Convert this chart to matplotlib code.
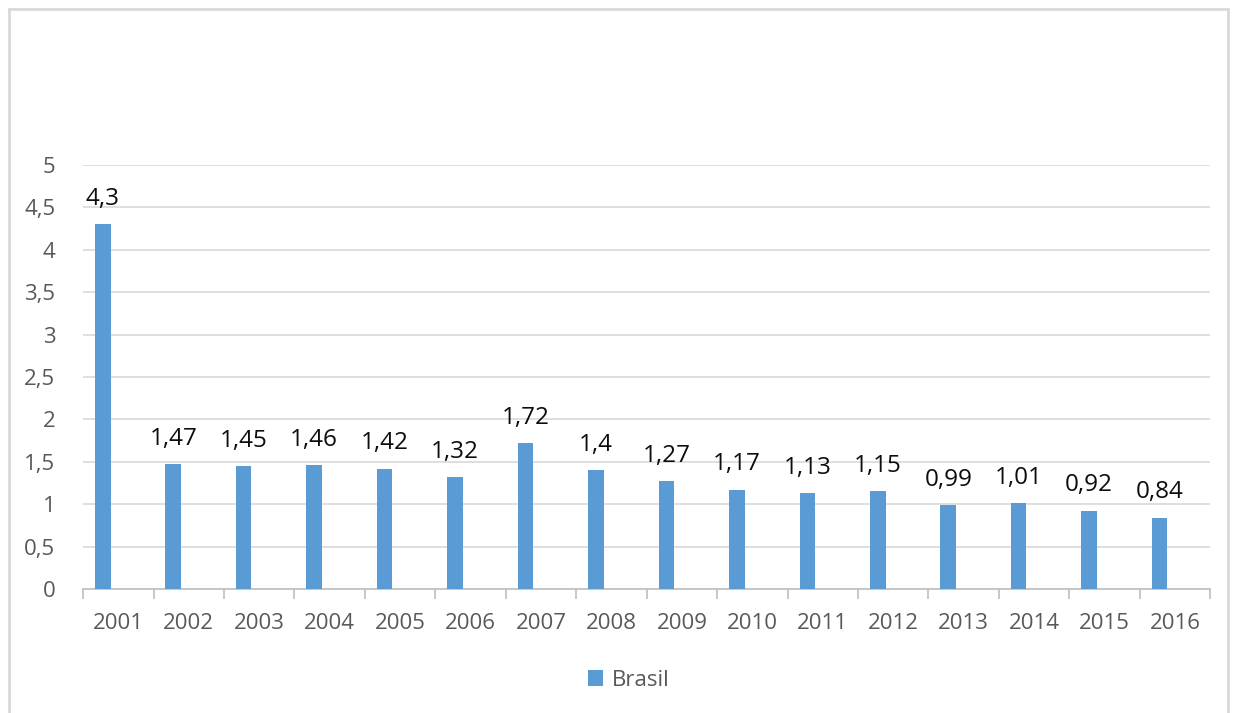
import matplotlib
matplotlib.use('Agg')
from matplotlib import pyplot as plt
from matplotlib.patches import Rectangle
import numpy as np

anos = ['2001', '2002', '2003', '2004', '2005', '2006', '2007', '2008',
        '2009', '2010', '2011', '2012', '2013', '2014', '2015', '2016']
valores = [4.3, 1.47, 1.45, 1.46, 1.42, 1.32, 1.72, 1.4,
           1.27, 1.17, 1.13, 1.15, 0.99, 1.01, 0.92, 0.84]
rotulos = ['4,3', '1,47', '1,45', '1,46', '1,42', '1,32', '1,72', '1,4',
           '1,27', '1,17', '1,13', '1,15', '0,99', '1,01', '0,92', '0,84']
yticks = [0, 0.5, 1, 1.5, 2, 2.5, 3, 3.5, 4, 4.5, 5]
ylabels = ['0', '0,5', '1', '1,5', '2', '2,5', '3', '3,5', '4', '4,5', '5']

plt.rcParams['font.family'] = ['Open Sans', 'DejaVu Sans']

fig = plt.figure(figsize=(12.36, 7.13), dpi=100)
ax = fig.add_axes([0.0672, 0.174, 0.912, 0.5946])

# moldura cinza em volta do grafico
fig.patches.append(Rectangle((9 / 1236, -0.05), 1219 / 1236, 1.05 - 9 / 713,
                             transform=fig.transFigure, fill=False,
                             edgecolor='#d9d9d9', linewidth=2))

x = np.arange(len(anos))
# as barras ficam um pouco a esquerda do centro de cada categoria (como no Excel)
xb = x - 0.22
ax.bar(xb, valores, width=0.22, color='#5b9bd5', label='Brasil', zorder=3)

for xi, v, r in zip(xb, valores, rotulos):
    ax.annotate(r, (xi, v), xytext=(0, 14), textcoords='offset points',
                ha='center', va='baseline', fontsize=17.5, color='#0d0d0d')

ax.set_xlim(-0.5, len(anos) - 0.5)
ax.set_ylim(0, 5)
ax.set_yticks(yticks)
ax.set_yticklabels(ylabels)
ax.set_xticks(x)
ax.set_xticklabels(anos)
ax.set_xticks(np.arange(-0.5, len(anos)), minor=True)

ax.grid(axis='y', color='#d9d9d9', linewidth=1.2, zorder=0)
for s in ['top', 'right', 'left']:
    ax.spines[s].set_visible(False)
ax.spines['bottom'].set_color('#bfbfbf')
ax.spines['bottom'].set_linewidth(1.2)

ax.tick_params(axis='x', which='major', length=0, labelsize=16, labelcolor='#595959', pad=17)
ax.tick_params(axis='x', which='minor', length=7, color='#bfbfbf', width=1.2)
ax.tick_params(axis='y', length=0, labelsize=16, labelcolor='#595959', pad=20)

fig.legend(loc='center', bbox_to_anchor=(629 / 1236, 1 - 680 / 713), frameon=False,
           fontsize=16, labelcolor='#595959', handlelength=0.7, handleheight=0.7,
           handletextpad=0.4)

fig.savefig('out.png', dpi=100, facecolor='white')
